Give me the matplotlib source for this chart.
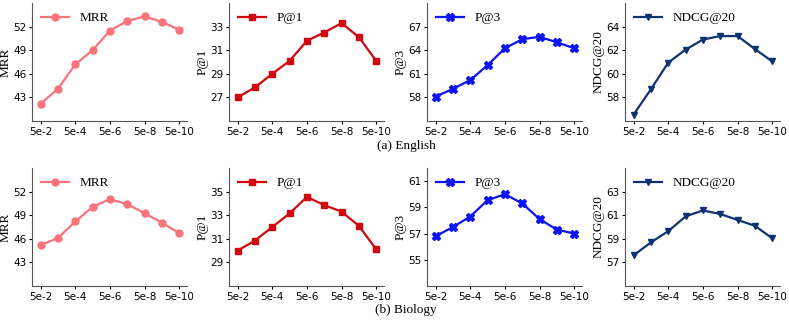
import matplotlib
matplotlib.use("Agg")
import matplotlib.pyplot as plt

x_labels = ["5e-2", "", "5e-4", "", "5e-6", "", "5e-8", "", "5e-10"]
tick_labels = ["5e-2", "5e-4", "5e-6", "5e-8", "5e-10"]

# English
en_mrr = [42.2, 44.1, 47.2, 49.0, 51.5, 52.7, 53.3, 52.6, 51.6]
en_p1 = [27.0, 27.85, 29.0, 30.1, 31.8, 32.5, 33.3, 32.1, 30.1]
en_p3 = [58.1, 59.1, 60.2, 62.1, 64.25, 65.4, 65.7, 65.0, 64.25]
en_ndcg = [56.55, 58.7, 60.95, 62.05, 62.9, 63.2, 63.2, 62.1, 61.05]

# Biology
bio_mrr = [45.2, 46.1, 48.2, 50.05, 51.05, 50.4, 49.25, 48.05, 46.7]
bio_p1 = [30.0, 30.85, 32.0, 33.15, 34.55, 33.85, 33.3, 32.1, 30.1]
bio_p3 = [56.8, 57.5, 58.3, 59.55, 60.0, 59.3, 58.1, 57.3, 57.0]
bio_ndcg = [57.6, 58.7, 59.65, 60.9, 61.4, 61.1, 60.6, 60.1, 59.05]

metrics = ["MRR", "P@1", "P@3", "NDCG@20"]
colors = ["#F8737A", "#D0080F", "#0A14F5", "#0F3272"]
markers = ["o", "s", "X", "v"]

rows = [
    dict(data=[en_mrr, en_p1, en_p3, en_ndcg],
         yticks=[[43, 46, 49, 52], [27, 29, 31, 33], [58, 61, 64, 67], [58, 60, 62, 64]],
         ylims=[(40, 55), (25, 35), (55, 70), (56, 66)],
         caption="(a) English"),
    dict(data=[bio_mrr, bio_p1, bio_p3, bio_ndcg],
         yticks=[[43, 46, 49, 52], [29, 31, 33, 35], [55, 57, 59, 61], [57, 59, 61, 63]],
         ylims=[(40, 55), (27, 37), (53, 62), (55, 65)],
         caption="(b) Biology"),
]

W, H = 789, 320
fig = plt.figure(figsize=(W / 100, H / 100), dpi=100)
serif = ["Liberation Serif", "DejaVu Serif"]

lefts = [32, 229, 427, 625]
tops = [3, 168]
aw, ah = 155, 118
cap_y = [146, 310]

xs = list(range(len(x_labels)))
for r, row in enumerate(rows):
    for c in range(4):
        ax = fig.add_axes([lefts[c] / W, 1 - (tops[r] + ah) / H, aw / W, ah / H])
        ax.plot(xs, row["data"][c], color=colors[c], marker=markers[c],
                markersize=5 if markers[c] != "X" else 5.5, linewidth=1.6,
                label=metrics[c])
        ax.set_xlim(-0.5, 8.45)
        ax.set_ylim(*row["ylims"][c])
        ax.set_yticks(row["yticks"][c])
        ax.set_xticks(xs[::2])
        ax.set_xticklabels(tick_labels)
        ax.tick_params(labelsize=7.5, length=2.5, width=0.8, pad=1.5)
        for s in ["top", "right"]:
            ax.spines[s].set_visible(False)
        for s in ["left", "bottom"]:
            ax.spines[s].set_color("#555555")
            ax.spines[s].set_linewidth(0.8)
        ax.set_ylabel(metrics[c], family=serif, fontsize=9.5, labelpad=1)
        ax.legend(loc="upper left", frameon=False, prop=dict(family=serif, size=9.5),
                  handlelength=2.1, borderaxespad=0.3)
    fig.text(406 / W, 1 - cap_y[r] / H, row["caption"], family=serif,
             fontsize=9.5, ha="center", va="center")

fig.savefig("out.png", dpi=100)
